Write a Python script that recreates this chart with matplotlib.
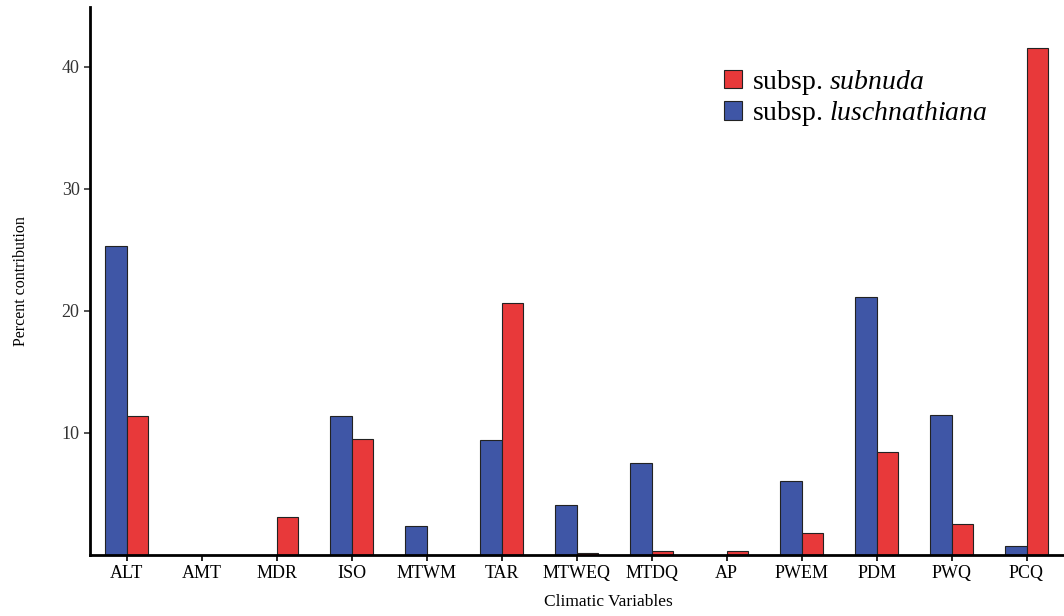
import matplotlib.pyplot as plt
import numpy as np

plt.rcParams["font.family"] = ["Liberation Serif", "DejaVu Serif"]
plt.rcParams["mathtext.fontset"] = "custom"
plt.rcParams["mathtext.rm"] = "Liberation Serif"
plt.rcParams["mathtext.it"] = "Liberation Serif:italic"

variables = ["ALT", "AMT", "MDR", "ISO", "MTWM", "TAR", "MTWEQ", "MTDQ", "AP", "PWEM", "PDM", "PWQ", "PCQ"]
luschnathiana = [25.3, 0.0, 0.0, 11.4, 2.4, 9.4, 4.1, 7.5, 0.0, 6.1, 21.1, 11.5, 0.7]
subnuda = [11.4, 0.0, 3.1, 9.5, 0.0, 20.6, 0.2, 0.3, 0.3, 1.8, 8.4, 2.5, 41.5]

fig = plt.figure(figsize=(10.64, 6.16), dpi=100)
ax = fig.add_axes([0.0846, 0.099, 0.9154, 0.89])

x = np.arange(len(variables))
width = 0.29
ax.bar(x - width / 2, luschnathiana, width, color="#3F56A6", edgecolor="#222222", linewidth=0.8,
       label="subsp. $\\it{luschnathiana}$")
ax.bar(x + width / 2, subnuda, width, color="#E8393A", edgecolor="#222222", linewidth=0.8,
       label="subsp. $\\it{subnuda}$")

ax.set_xlim(-0.49, 12.5)
ax.set_ylim(0, 44.9)
ax.set_xticks(x, variables, fontsize=13)
ax.set_yticks([10, 20, 30, 40])
ax.tick_params(axis="y", labelsize=13, length=4, width=1.2, colors="#333333")
ax.tick_params(axis="x", length=4, width=1.2)
for s in ["top", "right"]:
    ax.spines[s].set_visible(False)
for s in ["left", "bottom"]:
    ax.spines[s].set_linewidth(2)

ax.set_ylabel("Percent contribution", fontsize=11.5)
ax.yaxis.set_label_coords(-0.063, 0.5)
ax.set_xlabel("Climatic Variables", fontsize=12.5)
ax.xaxis.set_label_coords(0.532, -0.071)

handles, labels = ax.get_legend_handles_labels()
ax.legend(handles[::-1], labels[::-1], loc="upper left", bbox_to_anchor=(0.651, 0.889), frameon=False,
          fontsize=20, handlelength=0.65, handleheight=0.65, handletextpad=0.36, labelspacing=0.1,
          borderpad=0, borderaxespad=0)

fig.savefig("out.png")
